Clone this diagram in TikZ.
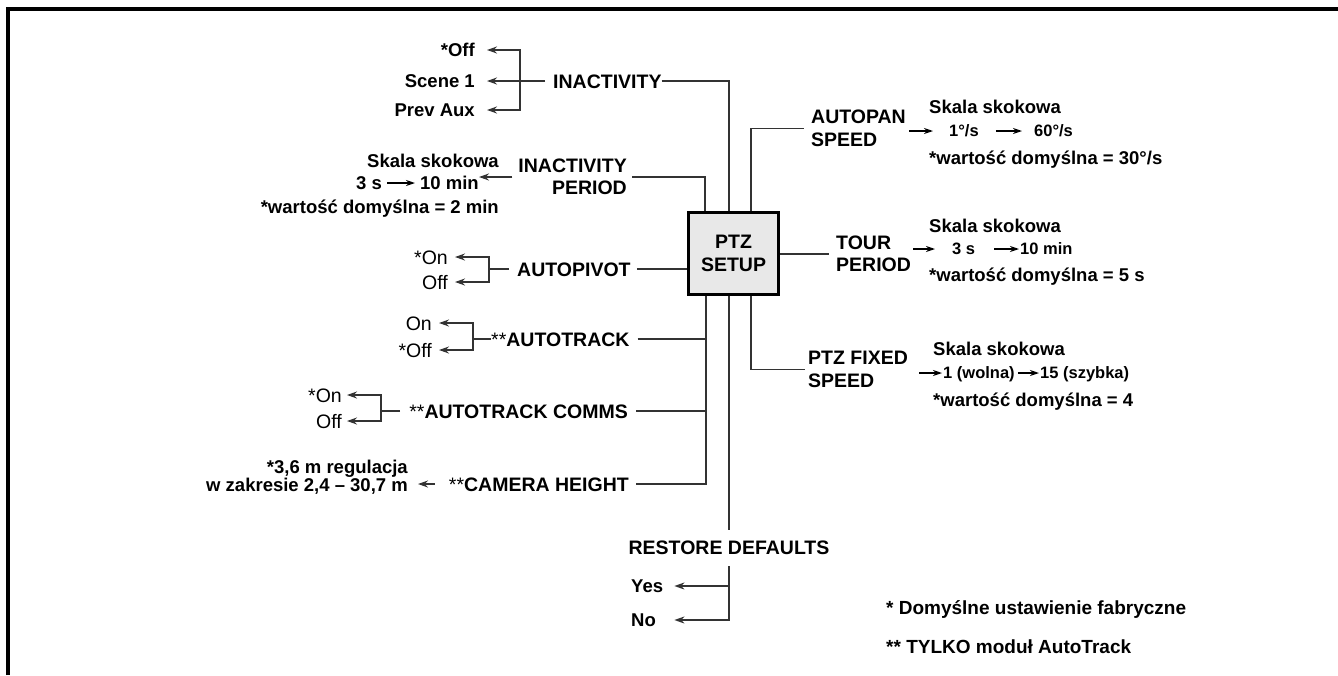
\documentclass[tikz,border=0pt]{standalone}
\usepackage{fontspec}
\setmainfont{Liberation Sans}
\usetikzlibrary{arrows.meta}
\begin{document}
\begin{tikzpicture}[x=1pt,y=-1pt,
  hdr/.style={font=\fontsize{19.5}{22.5}\selectfont\bfseries, inner sep=0pt},
  hdr1/.style={hdr, text height=14pt, text depth=0pt},
  opt/.style={font=\fontsize{18.5}{23}\selectfont\bfseries, inner sep=0pt, text height=13.2pt, text depth=0pt},
  optm/.style={font=\fontsize{18.5}{16.5}\selectfont\bfseries, inner sep=0pt},
  fn/.style={font=\fontsize{19}{23}\selectfont\bfseries, inner sep=0pt, text height=13.6pt, text depth=0pt},
  sml/.style={font=\fontsize{16.5}{20}\selectfont\bfseries, inner sep=0pt, text height=11.8pt, text depth=0pt},
  reg/.style={font=\fontsize{19.5}{22}\selectfont, inner sep=0pt, text height=14pt, text depth=0pt},
  conn/.style={draw=black!80, line width=1.6pt},
  arr/.style={conn, -{Stealth[length=10pt,width=7pt]}},
  iarr/.style={draw=black, line width=1.3pt, -{Stealth[length=9pt,width=6pt]}},
  box/.style={draw=black, line width=3.2pt, fill=black!9, minimum width=90pt, minimum height=82pt,
    font=\fontsize{19.5}{22.5}\selectfont\bfseries, align=center, inner sep=0pt}
]
\useasboundingbox (0,0) rectangle (1338,675);
\draw[line width=3.5pt] (8,675) -- (8,9) -- (1338,9);

% central box
\node[box] (ptz) at (733.5,253.5) {PTZ\\SETUP};

% INACTIVITY
\node[hdr1, anchor=west] (inact) at (553,81) {INACTIVITY};
\node[opt, anchor=east] (offO) at (475,50) {*Off};
\node[opt, anchor=east] (scene) at (475,81) {Scene 1};
\node[opt, anchor=east] (prev) at (475,110) {Prev Aux};
\coordinate (inJ) at (520,81);
\draw[conn] (inact.east) -| ([xshift=-4.5pt]ptz.north);
\draw[arr, shorten <=8pt, shorten >=12pt] (inact.west) -- (scene.east);
\draw[arr, shorten >=12pt] (inJ) |- (offO.east);
\draw[arr, shorten >=12pt] (inJ) |- (prev.east);

% INACTIVITY PERIOD
\node[hdr, align=right, anchor=east] (iper) at (627,177) {INACTIVITY\\PERIOD};
\draw[conn, shorten <=5pt] (iper.east) -| ([xshift=-28.5pt]ptz.north);
\node[opt, anchor=east] (ipSk) at (499,161) {Skala skokowa};
\node[opt, anchor=west] (ip3) at (356,183) {3 s};
\node[opt, anchor=east] (ip10) at (479,183) {10 min};
\node[opt, anchor=east] (ipDef) at (499,207) {*wartość domyślna = 2 min};
\draw[iarr, shorten <=5pt, shorten >=5pt] (ip3.east) -- (ip10.west);
\draw[arr, shorten <=6pt] (iper.west) -- (ip10.east |- iper.west);

% AUTOPIVOT
\node[hdr1, anchor=west] (apiv) at (517,269) {AUTOPIVOT};
\draw[conn, shorten <=6pt] (apiv.east) -- (apiv.east -| ptz.west);
\node[reg, anchor=east] (apOn) at (448,257) {*On};
\node[reg, anchor=east] (apOff) at (448,282) {Off};
\coordinate (apJ) at (489,269);
\draw[conn, shorten <=8pt] (apiv.west) -- (apJ);
\draw[arr, shorten >=7pt] (apJ) |- (apOn.east);
\draw[arr, shorten >=7pt] (apJ) |- (apOff.east);

% bus below box
\coordinate (bus) at ([xshift=-27.5pt]ptz.south);

% AUTOTRACK
\node[hdr1, anchor=west] (atrk) at (491,339) {\textmd{**}AUTOTRACK};
\draw[conn, shorten <=8pt] (atrk.east) -- (atrk.east -| bus);
\node[reg, anchor=east] (atOn) at (432,323) {On};
\node[reg, anchor=east] (atOff) at (432,350) {*Off};
\coordinate (atJ) at (473,339);
\draw[conn] (atrk.west) -- (atJ);
\draw[arr, shorten >=7pt] (atJ) |- (atOn.east);
\draw[arr, shorten >=7pt] (atJ) |- (atOff.east);

% AUTOTRACK COMMS
\node[hdr1, anchor=east] (acom) at (628,411) {\textmd{**}AUTOTRACK COMMS};
\draw[conn, shorten <=8pt] (acom.east) -- (acom.east -| bus);
\node[reg, anchor=east] (acOn) at (342,395) {*On};
\node[reg, anchor=east] (acOff) at (342,421) {Off};
\coordinate (acJ) at (381,411);
\draw[conn, shorten <=9pt] (acom.west) -- (acJ);
\draw[arr, shorten >=5pt] (acJ) |- (acOn.east);
\draw[arr, shorten >=5pt] (acJ) |- (acOff.east);

% CAMERA HEIGHT
\node[hdr1, anchor=east] (camh) at (629,484) {\textmd{**}CAMERA HEIGHT};
\draw[conn, shorten >=7pt] (bus) |- (camh.east);
\node[optm, align=right, anchor=east] (camT) at (408,477.5) {*3,6 m regulacja\\w zakresie 2,4 – 30,7 m};
\draw[arr, shorten <=14pt, shorten >=10pt] (camh.west) -- (camT.east |- camh.west);

% RESTORE DEFAULTS
\node[hdr1] (rest) at (729,547) {RESTORE DEFAULTS};
\draw[conn, shorten >=10pt] ([xshift=-4.5pt]ptz.south) -- (rest.north);
\node[opt, anchor=west, text width=36pt, align=left] (yes) at (631,586) {Yes};
\node[opt, anchor=west, text width=36pt, align=left] (no) at (631,620) {No};
\draw[arr, shorten <=12pt, shorten >=7pt] (rest.south) |- (no.east);
\draw[arr, shorten >=7pt] (rest.south |- yes.east) -- (yes.east);

% AUTOPAN SPEED
\node[hdr, align=left, anchor=west] (apan) at (811,128.5) {AUTOPAN\\SPEED};
\draw[conn, shorten >=7pt] ([xshift=17.5pt]ptz.north) |- (apan.west);
\node[opt, anchor=west] (apSk) at (929,107) {Skala skokowa};
\node[sml, anchor=west] (ap1) at (949,131) {1°/s};
\node[sml, anchor=west] (ap60) at (1034,131) {60°/s};
\node[opt, anchor=west] (apDef) at (929,158) {*wartość domyślna = 30°/s};
\draw[iarr, shorten <=3pt, shorten >=16pt] (apan.east |- ap1.west) -- (ap1.west);
\draw[iarr, shorten <=17pt, shorten >=12pt] (ap1.east) -- (ap60.west);

% TOUR PERIOD
\node[hdr, align=left, anchor=west] (tour) at (836,254) {TOUR\\PERIOD};
\draw[conn, shorten >=7pt] (ptz.east |- tour.west) -- (tour.west);
\node[opt, anchor=west] (tSk) at (929,226) {Skala skokowa};
\node[sml, anchor=west] (t3) at (952,249) {3 s};
\node[sml, anchor=west] (t10) at (1020,249) {10 min};
\node[opt, anchor=west] (tDef) at (929,275) {*wartość domyślna = 5 s};
\draw[iarr, shorten <=2pt, shorten >=17pt] (tour.east |- t3.west) -- (t3.west);
\draw[iarr, shorten <=19pt, shorten >=1pt] (t3.east) -- (t10.west);

% PTZ FIXED SPEED
\node[hdr, align=left, anchor=west] (pfix) at (808,369.5) {PTZ FIXED\\SPEED};
\draw[conn, shorten >=3pt] ([xshift=17.5pt]ptz.south) |- (pfix.west);
\node[opt, anchor=west] (pSk) at (933,349) {Skala skokowa};
\node[sml, anchor=west] (p1) at (943,373) {1 (wolna)};
\node[sml, anchor=west] (p15) at (1040,373) {15 (szybka)};
\node[opt, anchor=west] (pDef) at (933,400) {*wartość domyślna = 4};
\draw[iarr, shorten <=11pt, shorten >=1pt] (pfix.east |- p1.west) -- (p1.west);
\draw[iarr, shorten <=3pt, shorten >=1pt] (p1.east) -- (p15.west);

% footnotes
\node[fn, anchor=west] (fn1) at (886,608) {* Domyślne ustawienie fabryczne};
\node[fn, anchor=west] (fn2) at (886,647) {** TYLKO moduł AutoTrack};
\end{tikzpicture}
\end{document}
